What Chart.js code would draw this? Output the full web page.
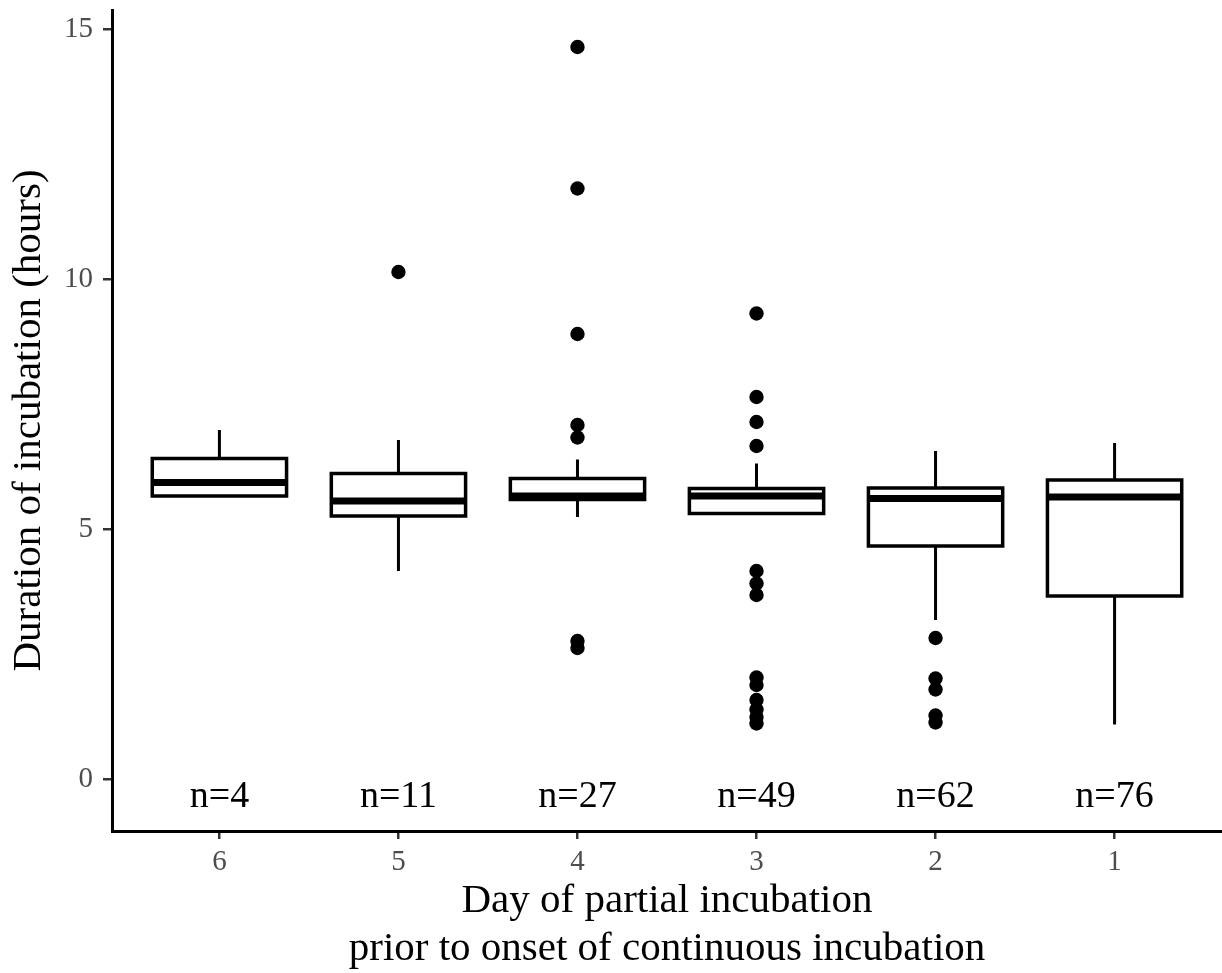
<!DOCTYPE html>
<html>
<head>
<meta charset="utf-8">
<title>Duration of incubation</title>
<script src="https://cdn.jsdelivr.net/npm/chart.js@4"></script>
<style>
  body { margin: 0; background: #fff; }
  #chart { display: block; }
</style>
</head>
<body>
<canvas id="chart" width="1222" height="973"></canvas>
<script>
// Categories (day of partial incubation) and sample sizes
const days = ['6', '5', '4', '3', '2', '1'];
const counts = [4, 11, 27, 49, 62, 76];

// Box statistics (hours)
const whiskerLow = [5.67, 4.17, 5.25, 5.32, 3.19, 1.10];
const q1 = [5.67, 5.27, 5.60, 5.32, 4.67, 3.67];
const median = [5.94, 5.57, 5.67, 5.67, 5.62, 5.65];
const q3 = [6.42, 6.12, 6.02, 5.82, 5.83, 5.99];
const whiskerHigh = [6.99, 6.79, 6.40, 6.32, 6.57, 6.73];

// Outliers per category
const outliers = [
  [],
  [10.15],
  [14.65, 11.82, 8.91, 7.09, 6.84, 2.77, 2.63],
  [9.32, 7.65, 7.15, 6.67, 4.17, 3.92, 3.69, 2.04, 1.89, 1.59, 1.40, 1.25, 1.12],
  [2.83, 2.02, 1.80, 1.28, 1.14],
  []
];

// Y ticks
const yTicks = [0, 5, 10, 15];

const FONT = "'Liberation Serif', 'Times New Roman', serif";
const BOX_WIDTH = 0.75;
const N_LABEL_Y = -0.55;

const positions = days.map((d, i) => i + 1);

/**
 * Draw the boxes, whiskers and medians from the scales
 */
const boxPlugin = {
  id: 'boxes',
  beforeDatasetsDraw(chart) {
    const ctx = chart.ctx;
    const xs = chart.scales.x;
    const ys = chart.scales.y;
    ctx.save();
    ctx.strokeStyle = '#000';
    for (let i = 0; i < days.length; i++) {
      const cx = xs.getPixelForValue(positions[i]);
      const half = xs.getPixelForValue(positions[i] + BOX_WIDTH / 2) - cx;
      const yLow = ys.getPixelForValue(whiskerLow[i]);
      const yHigh = ys.getPixelForValue(whiskerHigh[i]);
      const yQ1 = ys.getPixelForValue(q1[i]);
      const yQ3 = ys.getPixelForValue(q3[i]);
      const yMed = ys.getPixelForValue(median[i]);

      // whiskers
      ctx.lineWidth = 3;
      ctx.beginPath();
      ctx.moveTo(cx, yQ3);
      ctx.lineTo(cx, yHigh);
      ctx.moveTo(cx, yQ1);
      ctx.lineTo(cx, yLow);
      ctx.stroke();

      // box
      ctx.fillStyle = '#fff';
      ctx.fillRect(cx - half, yQ3, half * 2, yQ1 - yQ3);
      ctx.lineWidth = 3.5;
      ctx.strokeRect(cx - half, yQ3, half * 2, yQ1 - yQ3);

      // median
      ctx.lineWidth = 7;
      ctx.beginPath();
      ctx.moveTo(cx - half, yMed);
      ctx.lineTo(cx + half, yMed);
      ctx.stroke();
    }

    // sample size labels
    ctx.fillStyle = '#000';
    ctx.font = '38px ' + FONT;
    ctx.textAlign = 'center';
    ctx.textBaseline = 'alphabetic';
    for (let i = 0; i < days.length; i++) {
      ctx.fillText('n=' + counts[i], xs.getPixelForValue(positions[i]), ys.getPixelForValue(N_LABEL_Y));
    }
    ctx.restore();
  }
};

const outlierPoints = [];
outliers.forEach((arr, i) => {
  for (const v of arr) {
    outlierPoints.push({ x: positions[i], y: v });
  }
});

new Chart(document.getElementById('chart'), {
  type: 'scatter',
  data: {
    datasets: [{
      data: outlierPoints,
      backgroundColor: '#000',
      borderColor: '#000',
      borderWidth: 0,
      pointRadius: 7.2
    }]
  },
  options: {
    responsive: false,
    animation: false,
    devicePixelRatio: 1,
    layout: { autoPadding: false, padding: { top: 10, left: 0, right: 0, bottom: 0 } },
    plugins: {
      legend: { display: false },
      tooltip: { enabled: false }
    },
    scales: {
      x: {
        type: 'linear',
        position: 'bottom',
        min: 0.4,
        max: 6.6,
        afterBuildTicks: (scale) => { scale.ticks = positions.map(v => ({ value: v })); },
        afterFit: (scale) => {
          scale.height = 142;
          scale.paddingLeft = 0;
          scale.paddingRight = 0;
        },
        grid: { display: true, drawOnChartArea: false, drawTicks: true, tickLength: 8, color: '#333', lineWidth: 2.5 },
        border: { display: true, color: '#000', width: 3 },
        ticks: {
          padding: 6,
          color: '#4d4d4d',
          font: { family: FONT, size: 29 },
          callback: (value) => days[value - 1]
        },
        title: {
          display: true,
          text: ['Day of partial incubation', 'prior to onset of continuous incubation'],
          color: '#000',
          font: { family: FONT, size: 41, lineHeight: 48 / 41 },
          padding: { top: 0, bottom: 0 }
        }
      },
      y: {
        type: 'linear',
        min: -1.03,
        max: 15.39,
        afterBuildTicks: (scale) => { scale.ticks = yTicks.map(v => ({ value: v })); },
        afterFit: (scale) => {
          scale.width = 112;
          scale.paddingTop = 0;
          scale.paddingBottom = 0;
        },
        grid: { display: true, drawOnChartArea: false, drawTicks: true, tickLength: 9, color: '#333', lineWidth: 2.5 },
        border: { display: true, color: '#000', width: 3 },
        ticks: {
          padding: 10,
          color: '#4d4d4d',
          font: { family: FONT, size: 29 }
        },
        title: {
          display: true,
          text: 'Duration of incubation (hours)',
          color: '#000',
          font: { family: FONT, size: 41, lineHeight: 48 / 41 },
          padding: { top: 5, bottom: 0 }
        }
      }
    }
  },
  plugins: [boxPlugin]
});
</script>
</body>
</html>
